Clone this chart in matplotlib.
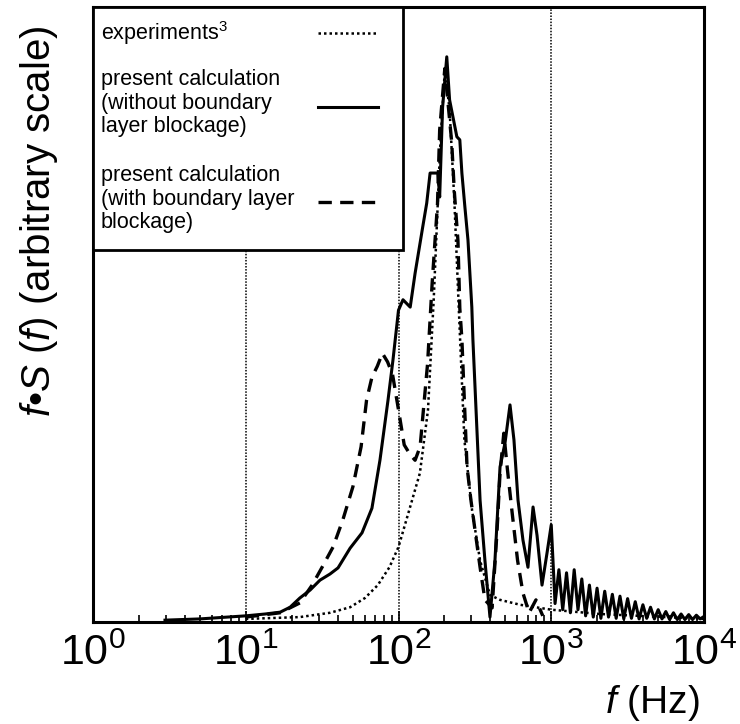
import matplotlib
matplotlib.use("Agg")
import matplotlib.pyplot as plt
from matplotlib.lines import Line2D
from matplotlib.patches import Rectangle
import numpy as np

plt.rcParams['font.family'] = ['Liberation Sans', 'DejaVu Sans']
plt.rcParams['mathtext.fontset'] = 'custom'
plt.rcParams['mathtext.rm'] = 'Liberation Sans'
plt.rcParams['mathtext.it'] = 'Liberation Sans:italic'

# ---- data ----
f_solid = [2.96, 5.0, 10, 13.4, 16.8, 19.5, 22.6, 26.4, 30.6, 35.6, 40.2, 48.2, 57.7, 67, 75.6,
           85.3, 92, 100, 107, 119.3, 128.4, 144, 153, 161, 181, 186, 194.4, 207, 216, 241,
           252, 260, 272, 285, 302, 307, 342, 368, 397, 428, 462, 498, 537, 570, 606, 653,
           704, 760, 807, 870, 938, 1000,
           1059, 1122, 1189, 1259, 1334, 1413, 1496, 1585, 1679, 1778, 1884, 1995, 2113, 2239,
           2371, 2512, 2661, 2818, 2985, 3162, 3350, 3548, 3758, 3981, 4217, 4467, 4732, 5012,
           5309, 5623, 5957, 6310, 6683, 7079, 7499, 7943, 8414, 8913, 9441, 10000]
v_solid = [0.003, 0.005, 0.010, 0.013, 0.016, 0.024, 0.039, 0.052, 0.068, 0.078, 0.088, 0.120,
           0.145, 0.185, 0.263, 0.360, 0.426, 0.507, 0.524, 0.512, 0.567, 0.642, 0.681, 0.730,
           0.730, 0.691, 0.837, 0.919, 0.849, 0.789, 0.784, 0.730, 0.675, 0.621, 0.512, 0.459,
           0.198, 0.100, 0.008, 0.100, 0.252, 0.291, 0.353, 0.296, 0.198, 0.133, 0.089, 0.187,
           0.141, 0.060, 0.112, 0.158,
           0.030, 0.085, 0.020, 0.080, 0.015, 0.085, 0.020, 0.070, 0.010, 0.060, 0.008, 0.055,
           0.006, 0.050, 0.008, 0.045, 0.006, 0.042, 0.005, 0.038, 0.006, 0.033, 0.005, 0.028,
           0.006, 0.024, 0.005, 0.020, 0.005, 0.017, 0.004, 0.015, 0.004, 0.013, 0.004, 0.012,
           0.004, 0.011, 0.005, 0.009]

f_dashed = [10, 16.8, 22.6, 27.2, 31.6, 37.3, 43.2, 50.3, 56.9, 61.8, 67, 72.7, 78.4, 84.8, 91.5,
            100, 109, 119.3, 128.4, 138.5, 155, 166, 180, 186, 201, 223, 232, 245, 252, 260,
            281, 298, 342, 368, 410, 441, 462, 489, 517, 555, 602, 653, 716, 794, 880]
v_dashed = [0.008, 0.015, 0.031, 0.060, 0.089, 0.122, 0.166, 0.220, 0.285, 0.361, 0.398, 0.416,
            0.437, 0.423, 0.402, 0.345, 0.288, 0.272, 0.263, 0.285, 0.420, 0.550, 0.680, 0.800,
            0.900, 0.780, 0.700, 0.620, 0.510, 0.460, 0.252, 0.198, 0.089, 0.036, 0.023, 0.145,
            0.242, 0.307, 0.247, 0.177, 0.100, 0.047, 0.015, 0.036, 0.010]

f_exp = [10, 22.6, 35.6, 48.2, 60.3, 73.2, 87.2, 100, 116, 138, 156, 170, 187, 201, 216, 232,
         250, 270, 303, 342, 397, 462, 626, 1000, 2085, 10000]
v_exp = [0.005, 0.008, 0.015, 0.024, 0.039, 0.060, 0.089, 0.122, 0.177, 0.242, 0.345, 0.524,
         0.767, 0.898, 0.833, 0.686, 0.491, 0.296, 0.182, 0.100, 0.044, 0.036, 0.028, 0.020,
         0.013, 0.005]

xtick_vals = [1, 10, 100, 1000, 10000]
xtick_labels = [r'$\mathregular{10^{0}}$', r'$\mathregular{10^{1}}$', r'$\mathregular{10^{2}}$',
                r'$\mathregular{10^{3}}$', r'$\mathregular{10^{4}}$']
grid_vals = [10, 100, 1000]

legend_labels = ['experiments$^{3}$',
                 'present calculation\n(without boundary\nlayer blockage)',
                 'present calculation\n(with boundary layer\nblockage)']

# ---- figure ----
W, H = 740, 724
fig = plt.figure(figsize=(W / 100, H / 100), dpi=100)
ax = fig.add_axes([93 / W, 1 - 622 / H, (704 - 93) / W, (622 - 7) / H])
ax.set_xscale('log')
ax.set_xlim(1, 10000)
ax.set_ylim(0, 1)

for g in grid_vals:
    ax.axvline(g, color='black', linestyle=(0, (1, 1)), linewidth=1.1, zorder=1)

ax.plot(f_exp, v_exp, color='black', linestyle=(0, (1, 1.2)), linewidth=1.8, zorder=3)
ax.plot(f_dashed, v_dashed, color='black', linestyle=(0, (4, 2.5)), linewidth=2.4, zorder=3)
ax.plot(f_solid, v_solid, color='black', linestyle='-', linewidth=2.2, zorder=4)

for s in ax.spines.values():
    s.set_linewidth(2.2)

ax.set_xticks(xtick_vals)
ax.set_xticklabels(xtick_labels, fontsize=31)
ax.set_yticks([])
ax.tick_params(axis='x', which='major', direction='in', length=8, width=1.2, pad=8)
ax.tick_params(axis='x', which='minor', direction='in', length=5, width=1.2)
ax.xaxis.set_minor_locator(matplotlib.ticker.LogLocator(base=10, subs=np.arange(2, 10)))
ax.xaxis.set_minor_formatter(matplotlib.ticker.NullFormatter())

# legend box (manual)
tr = fig.transFigure
ax_box = Rectangle((93 / W, 1 - 250 / H), (403 - 93) / W, (250 - 7) / H, transform=tr,
                   facecolor='white', edgecolor='black', linewidth=2.0, zorder=10)
fig.add_artist(ax_box)
text_y = [33, 103, 199]
line_y = [33, 107, 202]
styles = [dict(linestyle=(0, (1, 1.2)), linewidth=1.8),
          dict(linestyle='-', linewidth=2.2),
          dict(linestyle=(0, (4, 2.5)), linewidth=2.4)]
for lab, ty, ly, st in zip(legend_labels, text_y, line_y, styles):
    fig.text(101 / W, 1 - ty / H, lab, fontsize=15.5, va='center', ha='left',
             linespacing=1.15, zorder=11)
    fig.add_artist(Line2D([318 / W, 378 / W], [1 - ly / H, 1 - ly / H], transform=tr,
                          color='black', zorder=11, **st))

fig.text(39 / W, 1 - 221 / H, r'$f$•$S$ ($f$) (arbitrary scale)', rotation=90,
         fontsize=29, ha='center', va='center')
fig.text(700 / W, 1 - 703 / H, r'$f$ (Hz)', fontsize=28, ha='right', va='center')

fig.savefig('out.png', dpi=100)
